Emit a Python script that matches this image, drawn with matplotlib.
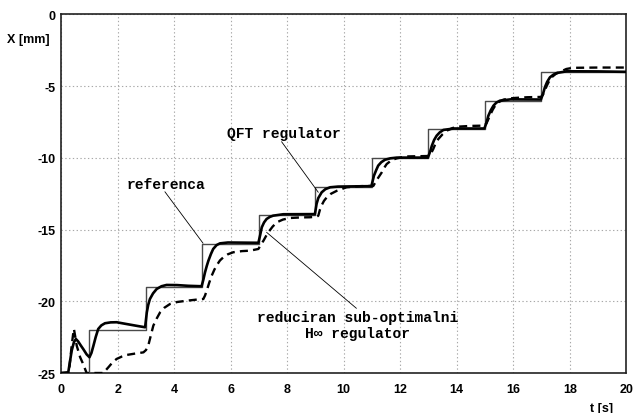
import matplotlib
matplotlib.use("Agg")
import matplotlib.pyplot as plt

plt.rcParams["axes.unicode_minus"] = False

# Reference staircase (step changes of the set-point)
ref_t = [0, 1, 3, 5, 7, 9, 11, 13, 15, 17, 20]
ref_x = [-25, -22, -19, -16, -14, -12, -10, -8, -6, -4, -4]

# Response with the QFT regulator
qft_t = [0.0, 0.25, 0.31, 0.37, 0.45, 0.52, 0.6, 0.7, 0.78, 0.9, 1.0, 1.07, 1.14,
         1.22, 1.31, 1.42, 1.55, 1.75, 1.96, 2.3, 2.7, 2.97, 3.03, 3.08, 3.14,
         3.25, 3.38, 3.55, 3.73, 4.1, 4.5, 4.97, 5.03, 5.09, 5.15, 5.21, 5.3,
         5.38, 5.5, 5.62, 5.9, 6.98, 7.04, 7.1, 7.18, 7.27, 7.38, 7.5, 7.86,
         8.98, 9.04, 9.1, 9.16, 9.22, 9.35, 9.52, 9.8, 10.98, 11.07, 11.15,
         11.22, 11.33, 11.46, 11.65, 11.88, 12.98, 13.06, 13.12, 13.2, 13.29,
         13.4, 13.53, 13.9, 14.98, 15.06, 15.12, 15.2, 15.3, 15.4, 15.53, 15.9,
         16.98, 17.06, 17.12, 17.2, 17.3, 17.42, 17.54, 17.9, 19.0, 20.0]
qft_x = [-25.0, -24.95, -24.2, -23.45, -22.85, -22.63, -22.8, -23.1, -23.33,
         -23.7, -23.9, -23.6, -23.1, -22.5, -21.93, -21.68, -21.53, -21.47,
         -21.46, -21.58, -21.72, -21.81, -20.77, -20.25, -19.84, -19.45, -19.14,
         -18.95, -18.86, -18.87, -18.92, -18.95, -18.5, -17.98, -17.55, -17.17,
         -16.7, -16.35, -16.08, -15.96, -15.9, -15.92, -15.4, -14.84, -14.5,
         -14.26, -14.12, -14.03, -13.93, -13.92, -13.2, -12.8, -12.6, -12.4,
         -12.18, -12.05, -12.0, -11.97, -11.24, -10.85, -10.54, -10.3, -10.13,
         -10.03, -9.98, -9.98, -9.55, -9.15, -8.75, -8.45, -8.22, -8.05, -7.95,
         -7.95, -7.5, -7.06, -6.7, -6.36, -6.15, -6.01, -5.92, -5.93, -5.5,
         -5.08, -4.7, -4.38, -4.2, -4.08, -3.96, -3.97, -4.0]

# Response with the reduced sub-optimal H-infinity regulator
hinf_t = [0.0, 0.27, 0.31, 0.37, 0.43, 0.45, 0.5, 0.55, 0.67, 0.76, 0.84, 0.9,
          1.49, 1.58, 1.67, 1.8, 1.96, 2.15, 2.32, 2.6, 2.91, 3.0, 3.08, 3.17,
          3.26, 3.38, 3.5, 3.65, 3.85, 4.1, 4.44, 4.8, 5.03, 5.09, 5.15, 5.24,
          5.33, 5.42, 5.5, 5.62, 5.74, 5.9, 6.09, 6.4, 6.68, 6.98, 7.07, 7.16,
          7.25, 7.33, 7.48, 7.63, 7.85, 8.1, 8.5, 8.8, 9.05, 9.1, 9.16, 9.22,
          9.3, 9.4, 9.55, 9.75, 10.1, 10.6, 11.05, 11.15, 11.25, 11.35, 11.43,
          11.52, 11.7, 11.88, 12.2, 12.98, 13.05, 13.1, 13.17, 13.25, 13.35,
          13.5, 13.65, 13.85, 14.06, 14.5, 14.98, 15.05, 15.12, 15.2, 15.28,
          15.36, 15.5, 15.65, 15.85, 16.06, 16.5, 16.98, 17.05, 17.12, 17.19,
          17.27, 17.36, 17.5, 17.66, 17.88, 18.1, 19.0, 20.0]
hinf_x = [-25.0, -25.0, -24.25, -23.1, -22.16, -21.93, -22.5, -23.1, -23.9,
          -24.3, -24.7, -25.0, -25.0, -24.8, -24.6, -24.3, -24.02, -23.85,
          -23.74, -23.65, -23.56, -23.4, -23.1, -22.4, -21.7, -21.2, -20.77,
          -20.45, -20.19, -20.05, -19.96, -19.88, -19.84, -19.6, -19.26, -18.7,
          -18.2, -17.8, -17.5, -17.15, -16.93, -16.72, -16.58, -16.5, -16.47,
          -16.35, -16.05, -15.77, -15.45, -15.19, -14.8, -14.49, -14.3, -14.19,
          -14.15, -14.14, -14.1, -14.03, -13.6, -13.3, -13.0, -12.75, -12.5,
          -12.3, -12.05, -11.97, -11.95, -11.6, -11.3, -11.0, -10.7, -10.43,
          -10.15, -10.03, -9.9, -9.87, -9.8, -9.65, -9.38, -9.0, -8.68, -8.35,
          -8.1, -7.92, -7.82, -7.77, -7.75, -7.6, -7.3, -6.94, -6.62, -6.36,
          -6.1, -5.94, -5.86, -5.82, -5.77, -5.75, -5.6, -5.3, -4.96, -4.65,
          -4.38, -4.15, -4.0, -3.8, -3.72, -3.7, -3.7]

x_ticks = [0, 2, 4, 6, 8, 10, 12, 14, 16, 18, 20]
y_ticks = [0, -5, -10, -15, -20, -25]

sans = ["Liberation Sans", "DejaVu Sans"]
mono = ["Liberation Mono", "DejaVu Sans Mono"]

fig = plt.figure(figsize=(6.33, 4.14), dpi=100)
ax = fig.add_axes([0.0967, 0.0966, 0.8926, 0.866])

ax.plot(ref_t, ref_x, drawstyle="steps-post", color="#4a4a4a", lw=1.0, zorder=3)
ax.plot(qft_t, qft_x, color="black", lw=1.9, zorder=4)
ax.plot(hinf_t, hinf_x, color="black", lw=1.7, dashes=(3.4, 2.2), zorder=4)

ax.set_xlim(0, 20)
ax.set_ylim(-25, 0)
ax.set_xticks(x_ticks)
ax.set_yticks(y_ticks)
ax.grid(True, color="#a8a8a8", linestyle=(0, (1.2, 2.2)), lw=0.8)
ax.tick_params(length=0, pad=4)
ax.tick_params(axis="x", pad=7)
for lab in ax.get_xticklabels() + ax.get_yticklabels():
    lab.set_family(sans)
    lab.set_fontweight("bold")
    lab.set_fontsize(9)
for s in ax.spines.values():
    s.set_linewidth(1.2)
    s.set_color("#222222")

fig.text(50 / 633, 1 - 40 / 414, "X [mm]", ha="right", va="center",
         family=sans, fontweight="bold", fontsize=9)
fig.text(613 / 633, 1 - 409 / 414, "t [s]", ha="right", va="center",
         family=sans, fontweight="bold", fontsize=9)

txt = dict(family=mono, fontweight="bold", fontsize=10.5)
line = dict(arrowstyle="-", color="black", lw=0.6, shrinkA=0, shrinkB=0)

ax.text(5.86, -8.26, "QFT regulator", ha="left", va="center", **txt)
ax.annotate("", xy=(9.1, -12.4), xytext=(7.8, -8.87), arrowprops=line)

ax.text(2.32, -11.82, "referenca", ha="left", va="center", **txt)
ax.annotate("", xy=(5.02, -15.95), xytext=(3.67, -12.36), arrowprops=line)

ax.text(10.5, -21.07, "reduciran sub-optimalni", ha="center", va="center", **txt)
ax.text(10.5, -22.23, "H\u221e regulator", ha="center", va="center", **txt)
ax.annotate("", xy=(7.27, -15.19), xytext=(10.45, -20.49), arrowprops=line)

fig.savefig("out.png", dpi=100)
